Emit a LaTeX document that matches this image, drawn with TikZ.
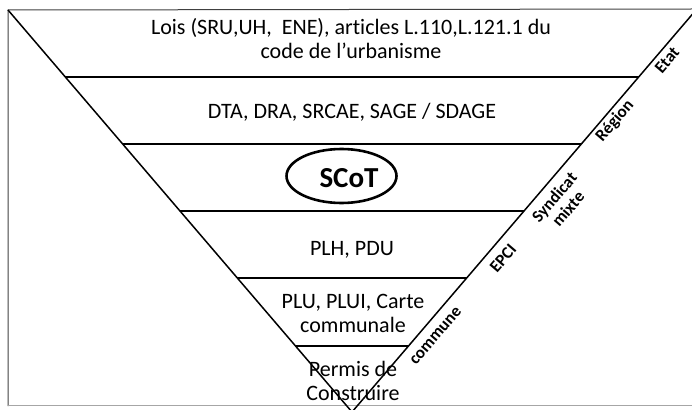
\documentclass[tikz,border=0pt]{standalone}
\usepackage{fontspec}
\setmainfont{Carlito}[Ligatures=NoCommon]
\usetikzlibrary{shapes.geometric}
\begin{document}
\begin{tikzpicture}[x=1pt,y=-1pt,line join=round,level/.style={font=\fontsize{22}{24.5}\selectfont,align=center,inner sep=0pt},tier/.style={font=\fontsize{17}{18}\selectfont\bfseries,align=center,rotate=49.4,inner sep=0pt},thin strata/.style={line width=1.4pt},thick strata/.style={line width=2.2pt}]
\useasboundingbox (0,0) rectangle (692,409);
\draw[line width=1pt, black!75] (8,406) -- (8,10) -- (692,9);
\draw[line width=0.8pt, black!35] (8,405.5) -- (692,405.5);
\coordinate (tl) at (8,10);
\coordinate (tr) at (696,10);
\coordinate (apex) at (352,412);
\draw[line width=1.5pt] (tl) -- (apex) -- (tr);
\draw[thick strata] (65.4,77) -- (638.6,77);
\draw[thick strata] (122.7,144) -- (581.3,144);
\draw[line width=1.8pt] (180.1,211) -- (523.9,211);
\draw[thin strata] (237.4,278) -- (466.6,278);
\draw[thin strata] (295.6,346) -- (408.4,346);
\node[level] (lois) at (351,38.5) {Lois (SRU,UH, \ ENE), articles L.110,L.121.1 du\\code de l’urbanisme};
\node[level, anchor=base] (dta) at (352,118) {DTA, DRA, SRCAE, SAGE / SDAGE};
\draw[line width=2.6pt] (341.5,176) ellipse [x radius=55, y radius=27];
\node[font=\fontsize{29}{30}\selectfont\bfseries, anchor=base, inner sep=0pt] (scot) at (349,187) {SCoT};
\node[level, anchor=base] (plh) at (352,255) {PLH, PDU};
\node[level] (plu) at (353,313.5) {PLU, PLUI, Carte\\communale};
\node[level] (pc) at (353,381) {Permis de\\Construire};
\node[tier] (etat) at (667,60) {Etat};
\node[tier] (region) at (615,121) {Région};
\node[tier] (syndicat) at (561,203) {Syndicat\\mixte};
\node[tier] (epci) at (503,258) {EPCI};
\node[tier] (commune) at (436,336) {commune};
\end{tikzpicture}
\end{document}
